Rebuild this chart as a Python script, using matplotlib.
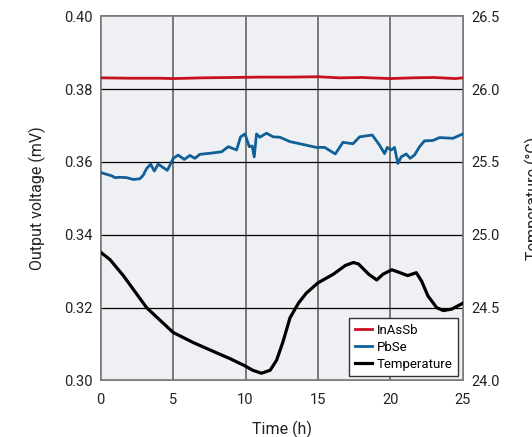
import matplotlib.pyplot as plt
import numpy as np

plt.rcParams['font.family'] = ['Roboto', 'DejaVu Sans']

# InAsSb output voltage (mV)
t_inassb = [0, 2, 4, 5, 7, 9, 11, 13, 15, 16.5, 18, 20, 21.5, 23, 24.5, 25]
v_inassb = [0.3831, 0.3830, 0.3830, 0.3829, 0.3831, 0.3832, 0.3833, 0.3833, 0.3834, 0.3831, 0.3832, 0.3829, 0.3831, 0.3832, 0.3829, 0.3831]

# PbSe output voltage (mV)
t_pbse = [0, 0.41, 0.76, 0.99, 1.33, 1.79, 2.25, 2.71, 2.94, 3.17, 3.45, 3.7, 3.97, 4.27,
          4.6, 4.78, 5.01, 5.35, 5.77, 6.16, 6.5, 6.85, 7.77, 8.35, 8.81, 9.38, 9.66, 9.96,
          10.26, 10.46, 10.6, 10.76, 10.99, 11.45, 11.91, 12.37, 13.06, 13.98, 14.9, 15.47,
          16.2, 16.73, 17.42, 17.88, 18.75, 19.26, 19.6, 19.79, 20.06, 20.29, 20.52, 20.75,
          21.1, 21.37, 21.67, 22.02, 22.36, 22.94, 23.4, 24.32, 25]
v_pbse = [0.3571, 0.3566, 0.3562, 0.3557, 0.3558, 0.3557, 0.3552, 0.3554, 0.3564, 0.3582,
          0.3594, 0.3575, 0.3594, 0.3586, 0.3577, 0.3591, 0.3610, 0.3619, 0.3607, 0.3618,
          0.3610, 0.3621, 0.3625, 0.3628, 0.3642, 0.3633, 0.3669, 0.3677, 0.3642, 0.3644,
          0.3614, 0.3677, 0.3668, 0.3679, 0.3669, 0.3668, 0.3656, 0.3648, 0.3640, 0.3640,
          0.3622, 0.3654, 0.3650, 0.3669, 0.3674, 0.3646, 0.3623, 0.3640, 0.3633, 0.3640,
          0.3596, 0.3614, 0.3622, 0.3610, 0.3619, 0.3642, 0.3658, 0.3659, 0.3667, 0.3665,
          0.3677]

# Temperature (degC)
t_temp = [0, 0.64, 1.56, 3.17, 5.0, 6.4, 8.0, 8.93, 9.97, 10.5, 11.1, 11.7, 12.15, 12.6,
          13.07, 13.65, 14.2, 15.0, 16.07, 16.9, 17.45, 17.8, 18.5, 19.06, 19.5, 20.1,
          20.67, 21.2, 21.8, 22.17, 22.6, 23.2, 23.66, 24.24, 25]
temp = [24.88, 24.83, 24.72, 24.50, 24.33, 24.26, 24.19, 24.15, 24.10, 24.07, 24.05,
        24.07, 24.14, 24.27, 24.43, 24.53, 24.60, 24.67, 24.73, 24.79, 24.81, 24.80,
        24.73, 24.69, 24.73, 24.76, 24.74, 24.72, 24.74, 24.68, 24.58, 24.50, 24.48,
        24.49, 24.53]

fig = plt.figure(figsize=(5.32, 4.37), dpi=100)
ax = fig.add_axes([0.1893, 0.1293, 0.6805, 0.8334])
ax2 = ax.twinx()

ax.set_facecolor('#eff0f3')
ax.set_zorder(ax2.get_zorder() + 1)
ax2.patch.set_visible(False)
ax.set_xlim(0, 25)
ax.set_ylim(0.30, 0.40)
ax2.set_ylim(24.0, 26.5)

ax.set_xticks([0, 5, 10, 15, 20, 25])
ax.set_yticks([0.30, 0.32, 0.34, 0.36, 0.38, 0.40])
ax.set_yticklabels(['0.30', '0.32', '0.34', '0.36', '0.38', '0.40'])
ax2.set_yticks([24.0, 24.5, 25.0, 25.5, 26.0, 26.5])
ax2.set_yticklabels(['24.0', '24.5', '25.0', '25.5', '26.0', '26.5'])

for x in [5, 10, 15, 20]:
    ax.axvline(x, color='#6e6e6e', lw=1.3, zorder=1)
for y in [0.32, 0.34, 0.36, 0.38]:
    ax.axhline(y, color='black', lw=0.9, zorder=1)

l1, = ax.plot(t_inassb, v_inassb, color='#c8101e', lw=2.0, label='InAsSb', zorder=3)
l2, = ax.plot(t_pbse, v_pbse, color='#115f97', lw=2.0, label='PbSe', zorder=3)
# temperature mapped onto the left scale via the right axis limits
temp_arr = np.array(temp)
t_on_left = 0.30 + (temp_arr - 24.0) / 2.5 * 0.10
l3, = ax.plot(t_temp, t_on_left, color='black', lw=2.3, label='Temperature', zorder=3)

for a in (ax, ax2):
    for s in a.spines.values():
        s.set_color('#7a7a7a')
        s.set_linewidth(1.2)
    a.tick_params(length=0, labelsize=10.5, colors='#222222', pad=6)
ax.tick_params(axis='x', pad=9)

ax.set_xlabel('Time (h)', fontsize=11.5, color='#222222', labelpad=10)
ax.set_ylabel('Output voltage (mV)', fontsize=11.5, color='#222222', labelpad=13)
ax2.set_ylabel('Temperature (°C)', fontsize=11.5, color='#222222', labelpad=18)

leg = ax.legend(handles=[l1, l2, l3], loc='lower right', fontsize=9.5,
                fancybox=False, framealpha=1, edgecolor='#333333',
                handlelength=1.3, handletextpad=0.4, borderpad=0.4,
                labelspacing=0.3, borderaxespad=0.35)
leg.get_frame().set_linewidth(1.0)

fig.savefig('out.png', dpi=100)
